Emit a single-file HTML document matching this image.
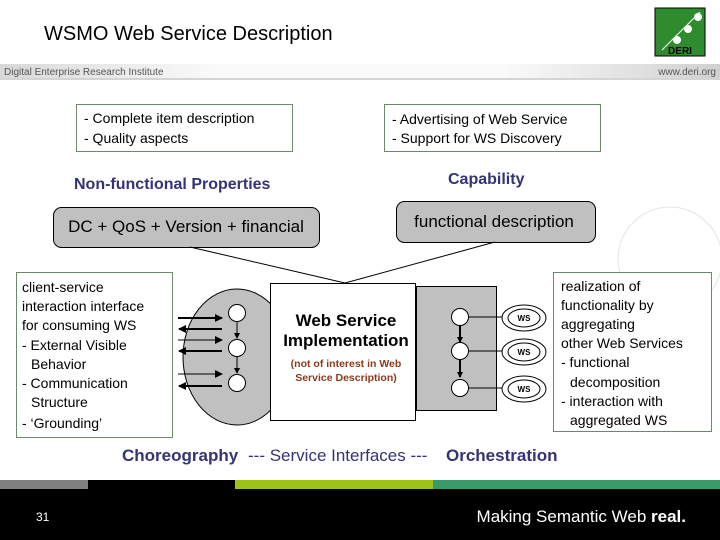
<!DOCTYPE html>
<html><head><style>
html,body{margin:0;padding:0;width:720px;height:540px;overflow:hidden;background:#fff}
svg{display:block;font-family:"Liberation Sans",Arial,sans-serif}
</style></head><body>
<svg width="720" height="540" viewBox="0 0 720 540" xmlns="http://www.w3.org/2000/svg">
<defs>
<linearGradient id="hb" x1="0" x2="1" y1="0" y2="0">
<stop offset="0" stop-color="#d8d8d8"/><stop offset="0.3" stop-color="#fafafa"/><stop offset="0.7" stop-color="#fafafa"/><stop offset="1" stop-color="#d0d0d0"/></linearGradient>
<marker id="ar" markerWidth="8" markerHeight="8" refX="7" refY="4" orient="auto" markerUnits="userSpaceOnUse"><path d="M0,0 L8,4 L0,8z" fill="#000"/></marker>
<marker id="as" markerWidth="6" markerHeight="6" refX="5" refY="3" orient="auto" markerUnits="userSpaceOnUse"><path d="M0,0 L6,3 L0,6z" fill="#000"/></marker>
</defs>
<text x="44" y="40" font-size="20" fill="#000">WSMO Web Service Description</text>
<rect x="655" y="8" width="50" height="48" fill="#2e8b2e" stroke="#000" stroke-width="1"/>
<line x1="662" y1="50" x2="700" y2="12" stroke="#fff" stroke-width="1"/>
<circle cx="698" cy="17" r="4" fill="#fff"/><circle cx="688" cy="29" r="4" fill="#fff"/><circle cx="677" cy="40" r="4" fill="#fff"/>
<text x="680" y="54" font-size="10" font-weight="bold" fill="#000" text-anchor="middle">DERI</text>
<rect x="0" y="64" width="720" height="14" fill="url(#hb)"/>
<line x1="0" y1="79" x2="720" y2="79" stroke="#aaa"/>
<text x="4" y="75" font-size="10" fill="#555">Digital Enterprise Research Institute</text>
<text x="716" y="75" font-size="10" fill="#555" text-anchor="end">www.deri.org</text>

<rect x="76.5" y="104.5" width="216" height="47" fill="#fff" stroke="#6a8a6a"/>
<text x="84" y="123" font-size="14">- Complete item description</text>
<text x="84" y="143" font-size="14">- Quality aspects</text>
<rect x="384.5" y="104.5" width="216" height="47" fill="#fff" stroke="#6a8a6a"/>
<text x="392" y="124" font-size="14">- Advertising of Web Service</text>
<text x="392" y="143" font-size="14">- Support for WS Discovery</text>

<text x="74" y="189" font-size="16" font-weight="bold" fill="#333377">Non-functional Properties</text>
<text x="448" y="184" font-size="16" font-weight="bold" fill="#333377">Capability</text>

<circle cx="670" cy="259" r="52" fill="none" stroke="#e4e4e4"/>

<rect x="53.5" y="207.5" width="266" height="40" rx="8" fill="#c0c0c0" stroke="#000"/>
<text x="186" y="232" font-size="17" text-anchor="middle">DC + QoS + Version + financial</text>
<rect x="396.5" y="201.5" width="199" height="41" rx="8" fill="#c0c0c0" stroke="#000"/>
<text x="494" y="227" font-size="17" text-anchor="middle">functional description</text>
<line x1="190" y1="247" x2="345" y2="283" stroke="#000"/>
<line x1="495" y1="242" x2="345" y2="283" stroke="#000"/>

<rect x="16.5" y="272.5" width="156" height="165" fill="#fff" stroke="#6a8a6a"/>
<g font-size="14">
<text x="22" y="292">client-service</text>
<text x="22" y="311">interaction interface</text>
<text x="22" y="330">for consuming WS</text>
<text x="22" y="350">- External Visible</text>
<text x="31" y="369">Behavior</text>
<text x="22" y="388">- Communication</text>
<text x="31" y="407">Structure</text>
<text x="22" y="428">- ‘Grounding’</text>
</g>

<ellipse cx="237" cy="357" rx="54" ry="68" fill="#c0c0c0" stroke="#000"/>
<g stroke="#000" stroke-width="2">
<line x1="178" y1="318" x2="222" y2="318" marker-end="url(#ar)"/>
<line x1="222" y1="329" x2="179" y2="329" marker-end="url(#ar)"/>
<line x1="178" y1="340" x2="222" y2="340" stroke-width="1" marker-end="url(#ar)"/>
<line x1="222" y1="351" x2="179" y2="351" marker-end="url(#ar)"/>
<line x1="178" y1="374" x2="222" y2="374" stroke-width="1" marker-end="url(#ar)"/>
<line x1="222" y1="386" x2="179" y2="386" marker-end="url(#ar)"/>
</g>
<g stroke="#000" fill="#fff">
<line x1="237" y1="321" x2="237" y2="338" marker-end="url(#as)"/>
<line x1="237" y1="357" x2="237" y2="373" marker-end="url(#as)"/>
<circle cx="237" cy="313" r="8.5"/><circle cx="237" cy="348" r="8.5"/><circle cx="237" cy="383" r="8.5"/>
</g>

<rect x="416.5" y="286.5" width="80" height="124" fill="#c0c0c0" stroke="#000"/>
<rect x="270.5" y="283.5" width="145" height="137" fill="#fff" stroke="#000"/>
<text x="346" y="326" font-size="17" font-weight="bold" text-anchor="middle">Web Service</text>
<text x="346" y="346" font-size="17" font-weight="bold" text-anchor="middle">Implementation</text>
<text x="346" y="367" font-size="10.5" font-weight="bold" fill="#8b3a1a" text-anchor="middle">(not of interest in Web</text>
<text x="346" y="381" font-size="10.5" font-weight="bold" fill="#8b3a1a" text-anchor="middle">Service Description)</text>

<g stroke="#000" fill="#fff">
<line x1="460" y1="325" x2="460" y2="342" stroke-width="2" marker-end="url(#as)"/>
<line x1="460" y1="360" x2="460" y2="377" stroke-width="2" marker-end="url(#as)"/>
<line x1="468" y1="317" x2="503" y2="317"/><line x1="468" y1="351" x2="503" y2="351"/><line x1="468" y1="388" x2="503" y2="388"/>
<circle cx="460" cy="317" r="8.5"/><circle cx="460" cy="351" r="8.5"/><circle cx="460" cy="388" r="8.5"/>
<ellipse cx="524" cy="318" rx="22" ry="13"/><ellipse cx="524" cy="318" rx="16" ry="9"/>
<ellipse cx="524" cy="352" rx="22" ry="13"/><ellipse cx="524" cy="352" rx="16" ry="9"/>
<ellipse cx="524" cy="389" rx="22" ry="13"/><ellipse cx="524" cy="389" rx="16" ry="9"/>
</g>
<g font-size="8" font-weight="bold" text-anchor="middle">
<text x="524" y="321">WS</text><text x="524" y="355">WS</text><text x="524" y="392">WS</text>
</g>

<rect x="553.5" y="272.5" width="158" height="159" fill="#fff" stroke="#6a8a6a"/>
<g font-size="14">
<text x="561" y="291">realization of</text>
<text x="561" y="310">functionality by</text>
<text x="561" y="329">aggregating</text>
<text x="561" y="348">other Web Services</text>
<text x="561" y="367">- functional</text>
<text x="570" y="387">decomposition</text>
<text x="561" y="406">- interaction with</text>
<text x="570" y="425">aggregated WS</text>
</g>

<text x="122" y="461" font-size="17" font-weight="bold" fill="#333377">Choreography</text>
<text x="248" y="461" font-size="17" fill="#333377">--- Service Interfaces ---</text>
<text x="446" y="461" font-size="17" font-weight="bold" fill="#333377">Orchestration</text>

<rect x="0" y="480" width="720" height="60" fill="#000"/>
<rect x="0" y="480" width="88" height="9" fill="#808080"/>
<rect x="235" y="480" width="198" height="9" fill="#9bc31a"/>
<rect x="433" y="480" width="287" height="9" fill="#3a9a6a"/>
<text x="36" y="521" font-size="12" fill="#fff">31</text>
<text x="686" y="522" font-size="17" fill="#fff" text-anchor="end">Making Semantic Web <tspan font-weight="bold">real.</tspan></text>
</svg>
</body></html>
